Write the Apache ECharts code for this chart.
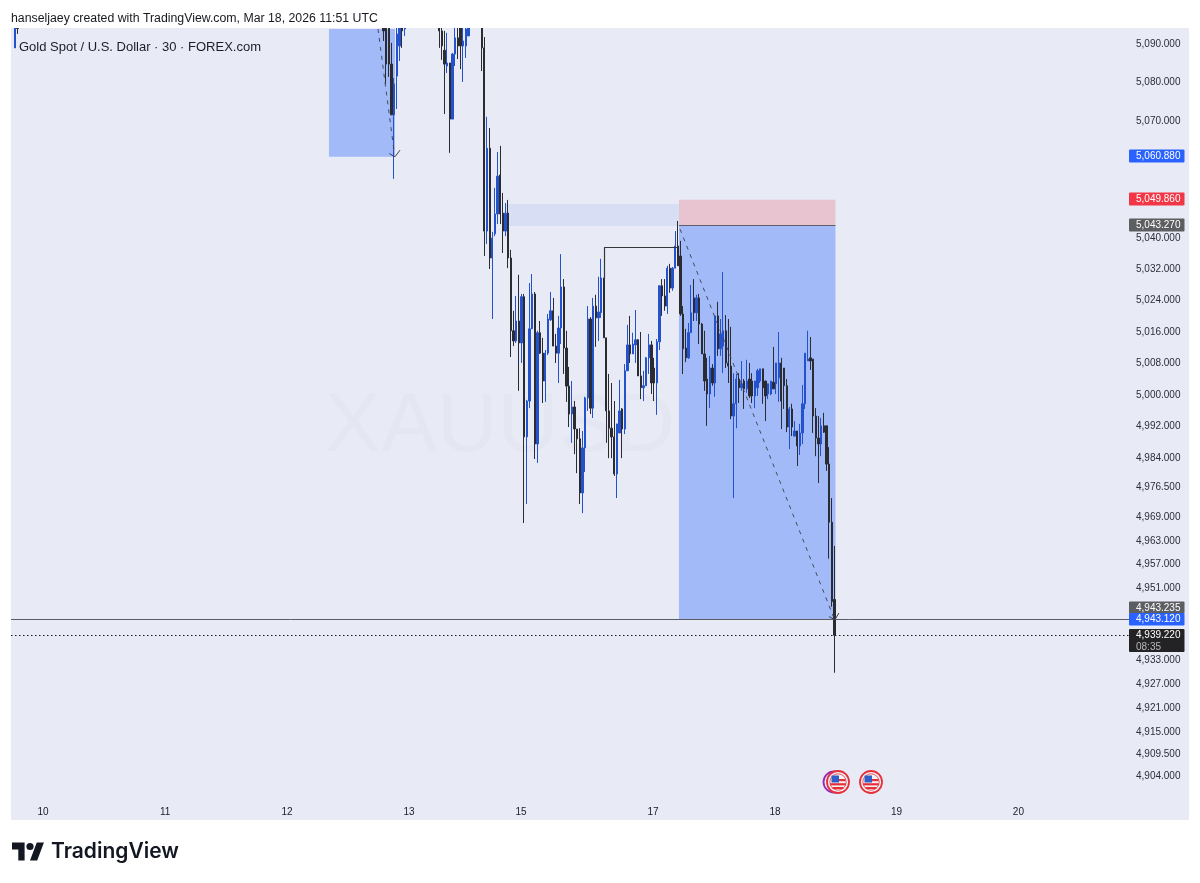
<!DOCTYPE html>
<html><head><meta charset="utf-8"><style>html,body{margin:0;padding:0;background:#fff}#c{width:1200px;height:883px}</style>
<script src="https://cdn.jsdelivr.net/npm/echarts@6/dist/echarts.min.js"></script></head><body><div id="c"></div>
<script>
// Runs of consecutive 30-minute bars visible in the frame: [first bar number, count]
const barRuns = [[1,2],[140,9],[161,12],[177,134]];
const opens = [5089,5097,
5098.6,5094.7,5096,5084.8,5071.7,5081.7,5089.5,5097.3,5093.9,
5099.9,5093.4,5088.4,5084.3,5085.1,5070.6,5087.4,5091.6,5094.7,5089.5,5089.5,5092.1,
5094.7,5089,5041.8,5063.1,5034.9,5041.1,5046.2,5056.2,5046.4,5041.8,5046.4,5034.9,5016.3,5013.7,5018.8,5013.2,5025,4989.3,4998.4,5016.8,5025.7,4987.5,5015.8,5010.6,5003.5,5010.6,5019.1,5021.4,5012.4,5010.6,5017,5027.5,5011.9,5002.2,4995.1,4996.9,4991.3,4988.8,4975.1,4986.5,4999.2,5019.3,4996.6,5022.6,5019.6,5020.9,5029.8,5014.5,4995.9,4991.5,4989.3,4979.9,4990.3,4996.4,4991.3,5006.1,5012.7,5010.4,5012.7,5014,5004.8,5001.8,5002.3,5009.4,5012.7,5006.8,5003,5013.5,5027.8,5025.2,5022.6,5032.3,5027.2,5032.3,5038,5035.4,5020.6,5011.9,5009.4,5015.8,5024.7,5020.9,5024.7,5018,5010.4,5004,5000.2,5006.8,5003,5020.1,5011.7,5012.4,5016.3,5008.1,5007.3,4994.6,4997.7,5004,5001.8,5003.5,5001.5,5004,5003.5,4999.7,5001.8,5003.5,5006.6,5003.5,5000.2,5000.2,5003.2,5002.8,5004.3,5008.1,5006.8,5002.3,4991.8,4996.4,4989.5,4990.8,4987,4990.3,4997.7,5008.6,5009.4,5009.1,4994.6,4989,4987.5,4992.1,4992.1,4982.4,4967.7,4948.2];
const highs = [5096,5098,
5099.9,5098.6,5098.1,5090.3,5081.2,5096,5098.6,5099.1,5098.6,
5101.2,5098.1,5093.4,5092.9,5085.1,5087.7,5094.2,5096,5097.3,5097.3,5096,5098.6,
5096,5091.8,5071.2,5068.3,5041.6,5052.9,5062.1,5063.7,5051.6,5049,5049.8,5037,5021.4,5025.2,5030.6,5025.7,5025.7,4998.7,5028.5,5030.8,5026.2,5016.3,5018.8,5014.5,5011.4,5020.6,5026.2,5024.7,5015.5,5020.1,5035.9,5029.5,5016.3,5007.1,5003.5,4998.4,4991.3,4991.5,4990.8,4999.5,5022.6,5019.8,5024.7,5025.5,5030.1,5034.7,5029.8,5014.5,5005.3,5003,4998.4,4992.6,5003.8,4996.6,5007.8,5017.8,5020.1,5015.8,5021.6,5014.2,5016,5006.1,5009.6,5015.5,5013.7,5009.4,5014.2,5027.8,5029.5,5029.5,5032.9,5033.4,5032.6,5041.8,5044.4,5039.3,5022.6,5016.8,5018.3,5028,5029.5,5025.5,5025.7,5018.3,5016.3,5009.4,5009.9,5007.8,5020.1,5023.7,5019.3,5031.3,5020.3,5019.3,5017.3,5005.5,5005.3,5005.5,5008.6,5004,5008.9,5008.1,5005.5,5003.5,5006.6,5006.6,5006.6,5003.5,5002.8,5003.5,5012.2,5008.1,5016,5009.4,5006.8,5004,4996.9,4997.7,4993.3,4990.8,4992.6,5002.5,5010.6,5016.3,5014.7,5009.1,4996.6,4994.6,4994.1,4995.4,4992.1,4986.7,4973.8,4961.7];
const lows = [5089,5092.6,
5090.8,5079.7,5081.5,5071.7,5055.2,5073.2,5085.6,5089,5092.1,
5089,5085.9,5071.9,5082.5,5061.9,5070.6,5084.3,5086.1,5083.5,5080.2,5086.4,5092.1,
5083,5035.4,5038.5,5032.1,5019.3,5040.5,5043.6,5043.6,5036.2,5040.5,5032.3,5009.6,5012.4,5013.2,5001,5008.1,4967.5,4972.3,4996.6,5016.8,4983.7,4982.7,5010.4,4997.9,4998.2,5010.1,5018.8,5012.4,5008.1,5003,5012.9,5005.3,4998.2,4991.8,4987.8,4984.9,4980.1,4972.3,4970,4980.4,4995.9,4995.1,4994.1,5012.2,5013.7,5019.6,5014.5,4987.8,4983.9,4983.9,4979.4,4973.8,4990.3,4983.9,4990,5006.1,5008.1,5010.4,5008.1,5004.8,4998.9,4998.4,5002.3,5005.3,5000.2,4998.4,4994.9,5011.4,5020.1,5021.4,5020.6,5026,5026.5,5032.3,5032.9,5020.1,5005.3,5008.3,5009.1,5015.8,5018.8,5018.8,5012.9,5010.4,5001,4992.1,4996.6,5002.3,4999.5,5009.9,5009.9,5005.5,5006.8,5003,4993.8,4973.8,4991.5,4997.9,5001,4996.4,5000.5,4999.2,4997.9,4996.6,4999.7,5003,4997.7,4993.3,4998.9,4999.9,5001.5,5000.2,4998.2,4991.3,4996.4,4990.5,4986.2,4989.5,4989.5,4981.9,4984.7,4987.5,4996.4,5008.6,5006.3,4990.3,4984.4,4977.6,4984.4,4990.3,4980.7,4958.5,4946.4,4929.8];
const closes = [5095,5094,
5093.4,5084.8,5084.8,5071.7,5079.7,5092.6,5096,5093.4,5097.3,
5093.4,5089.5,5084.8,5085.1,5070.6,5087.4,5091.6,5089.5,5089.5,5090.8,5093.9,5097.3,
5089,5041.8,5063.1,5034.9,5040,5046.2,5055.9,5046.2,5041.8,5046.4,5034.9,5016.3,5013.7,5018.8,5013.2,5025,4989.3,4998.4,5016.8,5025.7,4987.5,5015.8,5010.6,5003.5,5010.6,5019.3,5021.4,5012.4,5010.6,5017,5027.5,5011.9,5002.2,4995.1,4996.9,4991.3,4988.8,4975.1,4986.5,4999.2,5019.3,4996.6,5022.6,5019.6,5021.1,5029.8,5014.5,4995.9,4991.5,4989.3,4979.9,4992.6,4995.9,4991.3,5006.1,5012.7,5010.4,5012.9,5014,5004.8,5001.8,5002.3,5009.4,5012.7,5003,5003,5013.5,5027.8,5025.2,5022.6,5032.3,5027.2,5032.3,5038,5032.9,5020.6,5011.7,5009.4,5015.8,5020.9,5020.9,5024.7,5018,5010.4,5003.5,5000.2,5006.8,5003,5020.1,5011.7,5015.5,5016.3,5008.1,5007.3,4994.6,4997.7,5004,5001.8,5002.8,5001.5,5003.5,4999.7,4999.7,5003.5,5006.1,5006.6,5001.8,4999.7,5002.8,5003.5,5001.5,5008.1,5008.1,4998.4,5002.3,4991.8,4996.4,4991.8,4990.8,4987,4990.3,4997.7,5010.6,5009.1,5008.6,4994.6,4989,4987.5,4992.1,4990.5,4982.4,4967.7,4947.7,4939.22];

const priceTicks = [5090,5080,5070,5040,5032,5024,5016,5008,5000,4992,4984,4976.5,4969,4963,4957,4951,4933,4927,4921,4915,4909.5,4904];
const dayBars = [11.6,57.6,103.6,149.6,191.8,241.6,287.6,333.4,379.4];
const dayLabels = ['10','11','12','13','15','17','18','19','20'];

// Long-position tool 1, fair-value box, short position tool
const longBoxBars = [119.4,144.3], longBoxPrices = [5093.89,5060.88];
const fvgBars = [186.2,251.4], fvgPrices = [5048.75,5043.1];
const shortBars = [251.4,310.4], entryPrice = 5043.27, stopPrice = 5049.86, targetPrice = 4943.12;
const livePrice = 4939.22;
const bracketBars = [223.4,251], bracketPrices = [5037.7,5029.8];
const path1Bars = [137.9,144.1], path1Prices = [5093.89,5061.6];
const path1Head = [[142.2,5061.7],[144.3,5060.9],[146.2,5062.6]];
const path2Bars = [251.8,309.8], path2Prices = [5042.3,4943.6];
const path2Head = [[308,4943.9],[310.2,4943.1],[311.7,4944.8]];

const UP = '#2352cc', DOWN = '#2b2c31', FONT = '"Liberation Sans",Arial,sans-serif';
const barNumbers = [];
barRuns.forEach(([s,n]) => { for (let k=0;k<n;k++) barNumbers.push(s+k); });
const candles = barNumbers.map((b,i) => [b,opens[i],closes[i],lows[i],highs[i]]);
const fmt = v => v.toFixed(3).replace(/\B(?=(\d{3})(?=[\d]*\.))/g,',');
const seg = (a,b,style) => [{xAxis:a[0],yAxis:a[1],lineStyle:style},{xAxis:b[0],yAxis:b[1]}];
const dash = {color:'#3c3f4a',width:1,type:[4,5],opacity:.9};
const head = {color:'#3c3f4a',width:1,type:'solid'};

function tag(y,h,bg,lines,color){
  const out=[{type:'rect',z:50,shape:{x:1129,y:y,width:55.5,height:h,r:1},style:{fill:bg}}];
  lines.forEach((t,i)=>out.push({type:'text',z:51,style:{x:1136,y:y+6.5+i*12,text:t,fill:i?'#b9b9bc':(color||'#fff'),font:'10px '+FONT,verticalAlign:'middle'}}));
  return out;
}
function flag(cx,cy,purple){
  const e=[];
  if(purple)e.push({type:'circle',z:40,shape:{cx:cx-4,cy:cy,r:10.5},style:{fill:'#e8eaf6',stroke:'#9c27b0',lineWidth:1.8}});
  e.push({type:'circle',z:41,shape:{cx:cx,cy:cy,r:11},style:{fill:'#f4f4f8',stroke:'#e5303a',lineWidth:1.8}});
  e.push({type:'circle',z:42,shape:{cx:cx,cy:cy,r:8.2},style:{fill:'#f7f3f3',stroke:'#e5303a',lineWidth:.8}});
  e.push({type:'rect',z:43,shape:{x:cx-1,y:cy-3,width:8.5,height:2.2},style:{fill:'#e5303a'}});
  e.push({type:'rect',z:43,shape:{x:cx-7.8,y:cy+1.2,width:15.6,height:2.2},style:{fill:'#e5303a'}});
  e.push({type:'rect',z:43,shape:{x:cx-5.5,y:cy+5,width:11,height:2},style:{fill:'#e5303a'}});
  e.push({type:'rect',z:44,shape:{x:cx-6.5,y:cy-6.5,width:7.5,height:7},style:{fill:'#2f5fc8'}});
  return e;
}
const chart = echarts.init(document.getElementById('c'),null,{renderer:'canvas'});
chart.setOption({
  animation:false,
  backgroundColor:'#fff',
  grid:{left:11,right:71,top:29,bottom:79,containLabel:false},
  xAxis:{type:'value',min:-0.5,max:421.1,splitLine:{show:false},axisLine:{show:false},axisTick:{show:false},
    axisLabel:{customValues:dayBars,formatter:v=>dayLabels[dayBars.indexOf(v)]||'',color:'#1a1d28',fontSize:10,fontFamily:FONT,margin:3,hideOverlap:false}},
  yAxis:{type:'log',position:'right',min:4897.0,max:5093.89,splitLine:{show:false},axisLine:{show:false},axisTick:{show:false},minorTick:{show:false},minorSplitLine:{show:false},
    axisLabel:{customValues:priceTicks,formatter:v=>fmt(v),color:'#2b2e38',fontSize:10,fontFamily:FONT,margin:7,hideOverlap:false}},
  graphic:{elements:[
    {type:'rect',z:-10,silent:true,shape:{x:11,y:28,width:1178,height:792},style:{fill:'#e8eaf6'}},
    {type:'text',z:-9,style:{x:325,y:428,text:'XAUUSD, 30',fill:'rgba(30,34,50,0.02)',font:'84px '+FONT,verticalAlign:'middle'}},
    {type:'rect',z:30,silent:true,shape:{x:0,y:0,width:1200,height:28},style:{fill:'#ffffff'}},
    {type:'text',z:60,style:{x:11,y:18.5,text:'hanseljaey created with TradingView.com, Mar 18, 2026 11:51 UTC',fill:'#16181f',font:'12.3px '+FONT,verticalAlign:'middle'}},
    {type:'text',z:60,style:{x:19,y:47.5,text:'Gold Spot / U.S. Dollar · 30 · FOREX.com',fill:'#1b1e28',font:'13px '+FONT,verticalAlign:'middle'}},
    ...tag(149.5,13,'#2962ff',[fmt(5060.88)]),
    ...tag(192.5,13,'#f23645',[fmt(5049.86)]),
    ...tag(218.5,13,'#5d5e62',[fmt(5043.27)]),
    ...tag(601.5,12,'#5d5e62',[fmt(4943.235)]),
    ...tag(613,12.5,'#2962ff',[fmt(4943.12)]),
    ...tag(629,23,'#232326',[fmt(4939.22),'08:35']),
    ...flag(838,782,true),...flag(871,782,false),
    {type:'polygon',z:60,shape:{points:[[12,842.5],[24.6,842.5],[24.6,860.5],[18.3,860.5],[18.3,849.5],[12,849.5]]},style:{fill:'#131722'}},
    {type:'polygon',z:60,shape:{points:[[36.75,842.5],[43.95,842.5],[37.2,860.5],[30,860.5]]},style:{fill:'#131722'}},
    {type:'circle',z:60,shape:{cx:30,cy:846.5,r:3.6},style:{fill:'#131722'}},
    {type:'text',z:60,style:{x:51,y:852,text:'TradingView',fill:'#131722',font:'600 21px Inter,'+FONT,verticalAlign:'middle'}}
  ]},
  series:[{
    type:'candlestick',barWidth:1.8,clip:true,silent:true,data:candles,
    itemStyle:{color:UP,color0:DOWN,borderColor:UP,borderColor0:DOWN,borderWidth:1},
    markArea:{silent:true,label:{show:false},data:[
      [{xAxis:longBoxBars[0],yAxis:longBoxPrices[0],itemStyle:{color:'#a2baf8'}},{xAxis:longBoxBars[1],yAxis:longBoxPrices[1]}],
      [{xAxis:fvgBars[0],yAxis:fvgPrices[0],itemStyle:{color:'#d8def3'}},{xAxis:fvgBars[1],yAxis:fvgPrices[1]}],
      [{xAxis:shortBars[0],yAxis:stopPrice,itemStyle:{color:'#e8c4d0'}},{xAxis:shortBars[1],yAxis:entryPrice}],
      [{xAxis:shortBars[0],yAxis:entryPrice,itemStyle:{color:'#a2baf8'}},{xAxis:shortBars[1],yAxis:targetPrice}]
    ]},
    markLine:{silent:true,symbol:'none',label:{show:false},animation:false,data:[
      {yAxis:targetPrice,lineStyle:{color:'#5a5d66',width:1,type:'solid'}},
      {yAxis:livePrice,lineStyle:{color:'#1e1e22',width:1,type:[1.5,2.5]}},
      seg([shortBars[0],entryPrice],[shortBars[1],entryPrice],{color:'#5d6068',width:1,type:'solid'}),
      seg([bracketBars[0],bracketPrices[0]],[bracketBars[1],bracketPrices[0]],{color:'#35373d',width:1.2,type:'solid'}),
      seg([bracketBars[0],bracketPrices[0]],[bracketBars[0],bracketPrices[1]],{color:'#35373d',width:1.2,type:'solid'}),
      seg([path1Bars[0],path1Prices[0]],[path1Bars[1],path1Prices[1]],dash),
      seg(path1Head[0],path1Head[1],head),seg(path1Head[1],path1Head[2],head),
      seg([path2Bars[0],path2Prices[0]],[path2Bars[1],path2Prices[1]],dash),
      seg(path2Head[0],path2Head[1],head),seg(path2Head[1],path2Head[2],head)
    ]}
  }]
});
</script></body></html>
